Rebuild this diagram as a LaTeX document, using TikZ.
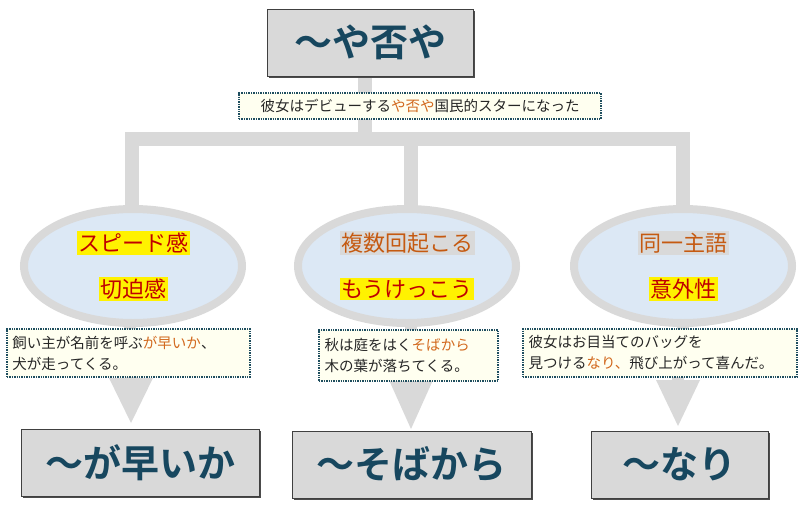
\documentclass[tikz,border=0pt]{standalone}
\usepackage{fontspec}
\setmainfont{Noto Sans CJK JP}[BoldFont={Noto Sans CJK JP Bold}]
\usetikzlibrary{shadows,shapes.geometric}
\definecolor{lg}{HTML}{D9D9D9}
\definecolor{navy}{HTML}{17475F}
\definecolor{eb}{HTML}{DCE8F5}
\definecolor{cap}{HTML}{FFFFF0}
\definecolor{dotc}{HTML}{1F4E5F}
\definecolor{og}{HTML}{D2691E}
\definecolor{rd}{HTML}{C00000}
\definecolor{br}{HTML}{C55A11}
\begin{document}
\begin{tikzpicture}[x=1pt,y=-1pt,
 title/.style={draw=black!75,line width=0.8pt,fill=lg,drop shadow={shadow xshift=1.5pt,shadow yshift=-1.5pt,fill=black!70,opacity=1},inner sep=0pt,text=navy,font=\bfseries\fontsize{38}{42}\selectfont},
 capbox/.style={draw=dotc,densely dotted,line width=1.4pt,fill=cap,inner sep=4pt,text=black!85,font=\fontsize{14.5}{21}\selectfont,align=left},
 bub/.style={draw=lg,line width=8pt,fill=eb,ellipse,minimum width=218pt,minimum height=114pt,inner sep=0pt},
 bar/.style={draw=lg,line width=14pt},
 arr/.style={fill=lg},
 hy/.style={fill=yellow,inner sep=1.5pt,text=rd,font=\fontsize{22}{24}\selectfont},
 hg/.style={fill=lg,inner sep=1.5pt,text=br,font=\fontsize{22}{24}\selectfont}]
\useasboundingbox (0,0) rectangle (800,504);
% connectors
\coordinate (j) at (365,139);
\coordinate (jl) at (132,139);
\coordinate (jr) at (683,139);
\coordinate (jm) at (411,139);
\draw[bar] (365,60) -- (j);
\draw[bar,line cap=rect] (jl) -- (jr);
\draw[bar] (jl) -- (132,215);
\draw[bar] (jm) -- (411,215);
\draw[bar] (jr) -- (683,215);
\draw[lg,line width=12pt] (130,300) -- (130,340);
\draw[lg,line width=12pt] (411,300) -- (411,340);
\draw[lg,line width=12pt] (683,300) -- (683,340);
\draw[lg,line width=12pt] (131,370) -- (131,385);
\draw[lg,line width=12pt] (411,370) -- (411,385);
\draw[lg,line width=12pt] (678,370) -- (678,385);
% triangles
\fill[arr] (109,378) -- (153,378) -- (131,423) -- cycle;
\fill[arr] (389,380) -- (433,380) -- (411,429) -- cycle;
\fill[arr] (656,380) -- (700,380) -- (678,426) -- cycle;
% ellipses
\node[bub] (e1) at (133,266) {};
\node[bub] (e2) at (407,266) {};
\node[bub] (e3) at (683,266) {};
\node[hy] (t1) at (133,243) {スピード感};
\node[hy] (t2) at (133,289) {切迫感};
\node[hg] (t3) at (407,243) {複数回起こる};
\node[hy] (t4) at (407,289) {もうけっこう};
\node[hg] (t5) at (683,243) {同一主語};
\node[hy] (t6) at (683,289) {意外性};
% titles
\node[title,minimum width=206pt,minimum height=67pt] (top) at (370,42.5) {～や否や};
\node[title,minimum width=238pt,minimum height=67pt] (b1) at (140,462.5) {～が早いか};
\node[title,minimum width=239pt,minimum height=67pt] (b2) at (411.5,464.5) {～そばから};
\node[title,minimum width=177pt,minimum height=67pt] (b3) at (679.5,464.5) {～なり};
% captions
\node[capbox,minimum width=362pt,minimum height=26pt,align=center] (c0) at (420,106) {彼女はデビューする\textcolor{og}{や否や}国民的スターになった};
\node[capbox,minimum width=243pt,minimum height=48pt,text width=232pt] (c1) at (128.5,353) {飼い主が名前を呼ぶ\textcolor{og}{が早いか}、\\犬が走ってくる。};
\node[capbox,minimum width=179pt,minimum height=51pt,text width=168pt] (c2) at (408.5,355.5) {秋は庭をはく\textcolor{og}{そばから}\\木の葉が落ちてくる。};
\node[capbox,minimum width=274pt,minimum height=48pt,text width=263pt] (c3) at (660,353) {彼女はお目当てのバッグを\\見つける\textcolor{og}{なり、}飛び上がって喜んだ。};
\end{tikzpicture}
\end{document}
